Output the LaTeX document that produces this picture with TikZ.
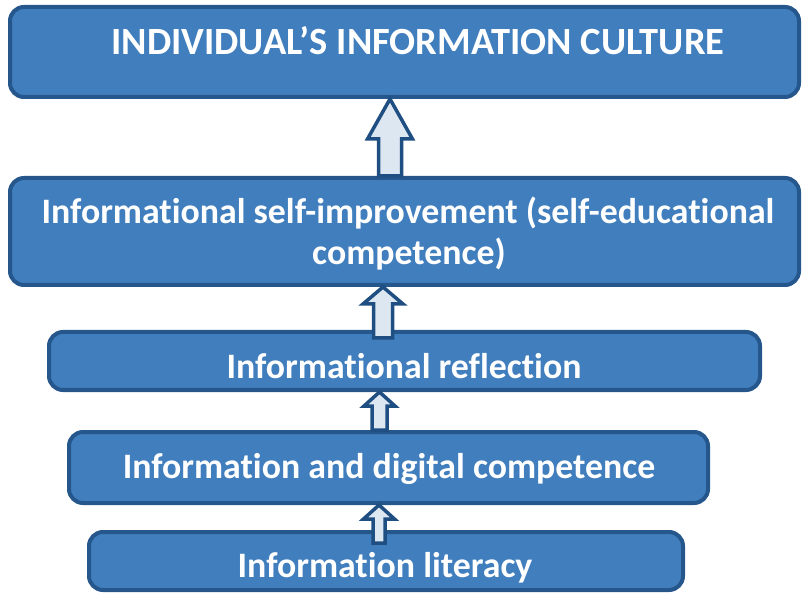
\documentclass[tikz,border=0pt]{standalone}
\usepackage{fontspec}
\setmainfont[Ligatures={NoCommon}]{Carlito}
\usetikzlibrary{calc}

\definecolor{boxfill}{RGB}{65,126,190}
\definecolor{boxline}{RGB}{37,87,140}
\definecolor{arrowfill}{RGB}{221,231,242}
\definecolor{arrowline}{RGB}{31,78,130}

\tikzset{
  levelbox/.style={draw=boxline, fill=boxfill, line width=4pt, rounded corners=14pt,
    inner sep=0pt},
  leveltext/.style={text=white, font=\fontsize{35.8}{42}\selectfont\bfseries, anchor=base,
    inner sep=0pt},
  titletext/.style={leveltext, font=\fontsize{38.5}{44}\selectfont\bfseries},
  blockarrow/.style={draw=arrowline, fill=arrowfill, line width=3.5pt, line join=miter},
}

% Hollow block arrow from the lower node (#2) up to the upper node (#1).
% #3 centre x, #4 head half-width, #5 shaft half-width, #6 head length,
% #7 how far the shaft runs into the lower node
\newcommand\upblock[7]{%
  \draw[blockarrow] let \p1=(#1.south), \p2=(#2.north) in
    ({#3pt},\y1) -- ({#3pt+#4pt},{\y1-#6pt}) -- ({#3pt+#5pt},{\y1-#6pt})
    -- ({#3pt+#5pt},{\y2-#7pt}) -- ({#3pt-#5pt},{\y2-#7pt})
    -- ({#3pt-#5pt},{\y1-#6pt}) -- ({#3pt-#4pt},{\y1-#6pt}) -- cycle;}

\begin{document}
\begin{tikzpicture}[x=1pt,y=-1pt]
\useasboundingbox (0,0) rectangle (803,593);

% the five levels
\node[levelbox, minimum width=789pt, minimum height=90pt]  (culture)   at (404.5,52)  {};
\node[levelbox, minimum width=789pt, minimum height=107pt] (selfimp)   at (404.5,231.5) {};
\node[levelbox, minimum width=711pt, minimum height=58pt]  (reflect)   at (404.5,361) {};
\node[levelbox, minimum width=639pt, minimum height=71pt]  (digital)   at (388.5,467.5) {};
\node[levelbox, minimum width=594pt, minimum height=58pt]  (literacy)  at (386,561) {};

% labels
\node[titletext] (t1)  at (418,55)  {INDIVIDUAL’S INFORMATION CULTURE};
\node[leveltext] (t2a) at (408,224) {Informational self-improvement (self-educational};
\node[leveltext] (t2b) at (409,265) {competence)};
\node[leveltext] (t3)  at (404,378) {Informational reflection};
\node[leveltext] (t4)  at (389,478) {Information and digital competence};
\node[leveltext] (t5)  at (385,577) {Information literacy};

% arrows between the levels
\upblock{culture}{selfimp}{390}{22.5}{11.5}{40}{0}
\upblock{selfimp}{reflect}{383}{20}{9.5}{17}{8}
\upblock{reflect}{digital}{379.5}{15.5}{7.5}{14}{0}
\upblock{digital}{literacy}{379}{15.5}{6}{14}{13}
\end{tikzpicture}
\end{document}
